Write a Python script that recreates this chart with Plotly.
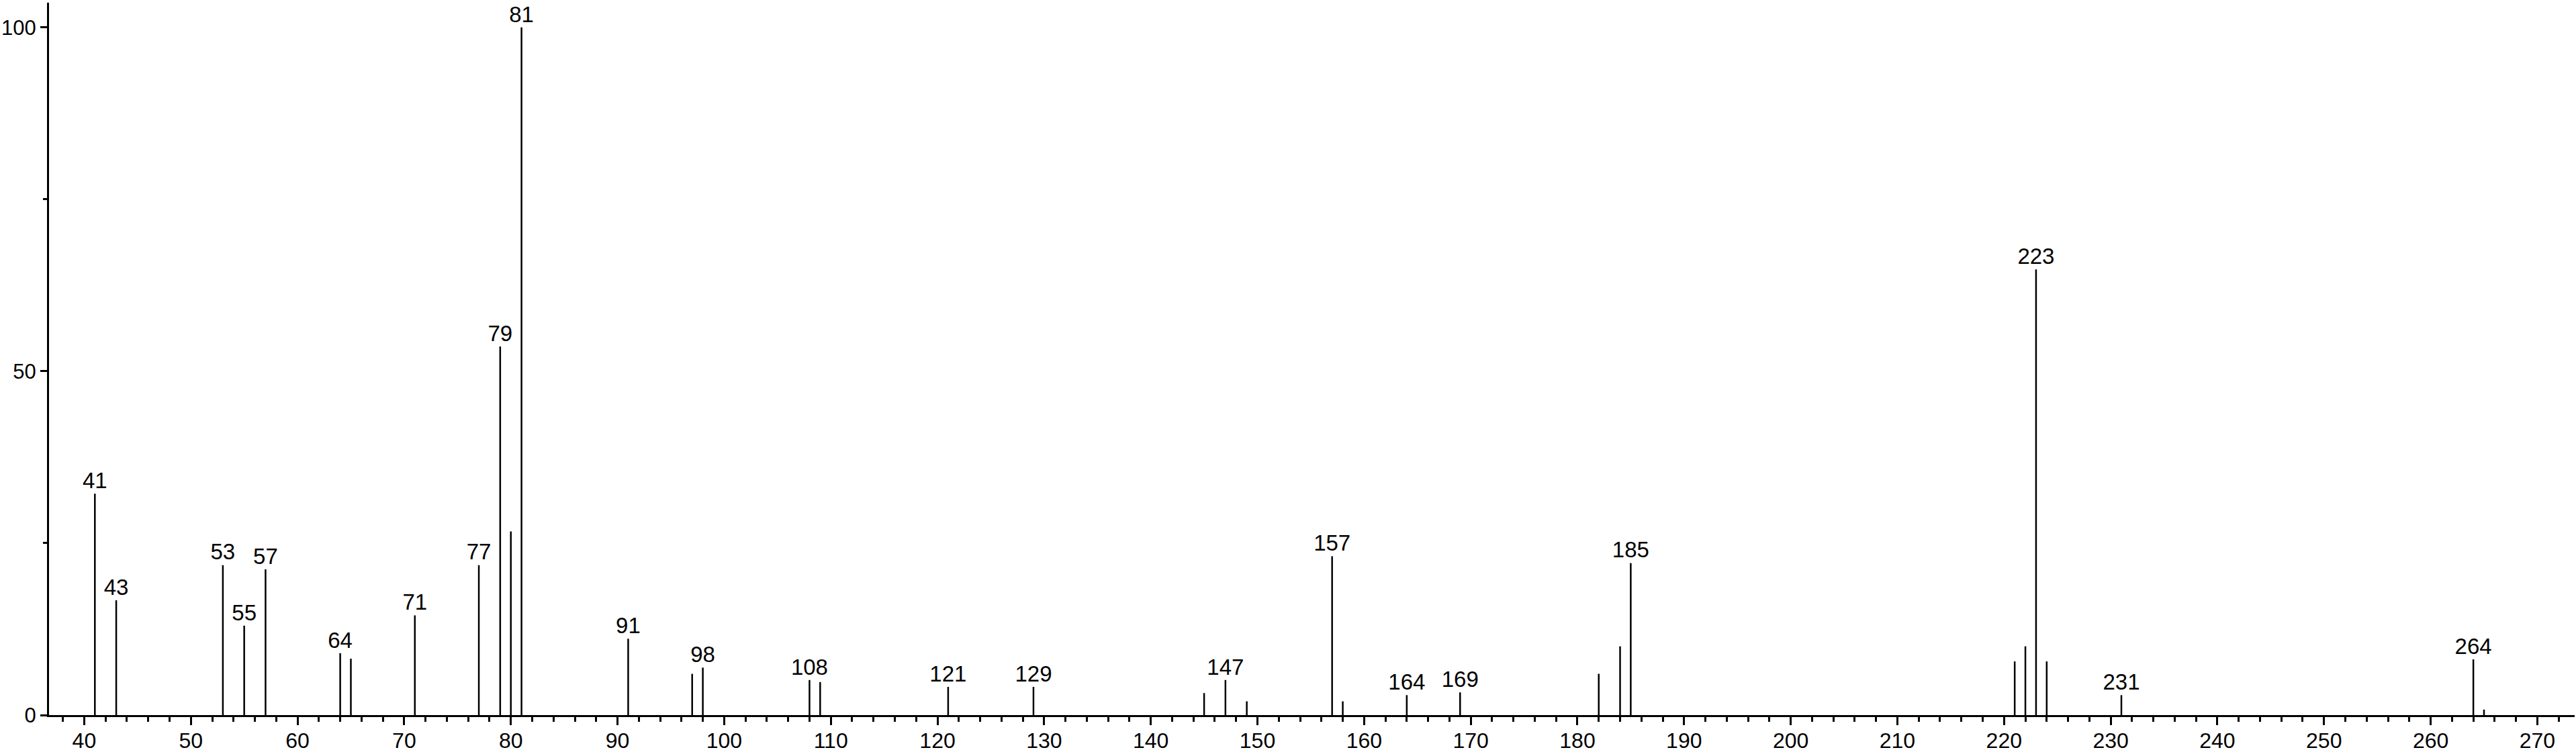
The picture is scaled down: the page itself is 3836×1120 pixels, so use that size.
import plotly.graph_objects as go

# m/z values and relative intensities
mz = [41, 43, 53, 55, 57, 64, 65, 71, 77, 79, 80, 81,
      91, 97, 98, 108, 109, 121, 129, 145, 147, 149,
      157, 158, 164, 169, 182, 184, 185,
      221, 222, 223, 224, 231, 264, 265]
intensity = [32.2, 16.7, 21.8, 13.0, 21.2, 9.0, 8.2, 14.5, 21.8, 53.6, 26.7, 100.0,
             11.1, 6.0, 6.9, 5.1, 4.8, 4.1, 4.1, 3.2, 5.1, 2.0,
             23.1, 2.0, 2.9, 3.3, 6.0, 10.0, 22.1,
             7.8, 10.0, 64.8, 7.8, 2.9, 8.1, 0.8]

# labelled peaks
label_mz = [41, 43, 53, 55, 57, 64, 71, 77, 79, 81, 91, 98, 108, 121, 129,
            147, 157, 164, 169, 185, 223, 231, 264]

x_ticks = list(range(40, 271, 10))
y_ticks = [0, 50, 100]

FONT = "Liberation Sans, Arial, sans-serif"

# stick segments
seg_x, seg_y = [], []
for m, v in zip(mz, intensity):
    seg_x += [m, m, None]
    seg_y += [0, v, None]

lookup = dict(zip(mz, intensity))
lab_y = [lookup[m] for m in label_mz]

fig = go.Figure()
fig.add_trace(go.Scatter(x=seg_x, y=seg_y, mode="lines",
                         line=dict(color="black", width=2.5),
                         hoverinfo="skip", showlegend=False))
fig.add_trace(go.Scatter(x=label_mz, y=lab_y, mode="text",
                         text=[str(m) for m in label_mz],
                         textposition="top center",
                         textfont=dict(family=FONT, size=33, color="black"),
                         cliponaxis=False, hoverinfo="skip", showlegend=False))

fig.update_layout(
    width=3836, height=1120,
    margin=dict(l=73, r=2, t=4, b=55),
    paper_bgcolor="white", plot_bgcolor="white",
    font=dict(family=FONT, size=33, color="black"),
    showlegend=False,
)
fig.update_xaxes(
    range=[36.7, 273.5], automargin=False,
    tickmode="array", tickvals=x_ticks, ticktext=[str(t) for t in x_ticks],
    ticks="outside", ticklen=12, tickwidth=2.5, tickcolor="black",
    ticklabelstandoff=-4,
    minor=dict(dtick=2, tick0=0, ticks="outside", ticklen=7, tickwidth=2.5, tickcolor="black"),
    showline=True, linecolor="black", linewidth=3,
    showgrid=False, zeroline=False,
    tickfont=dict(family=FONT, size=32, color="black"),
)
fig.update_yaxes(
    range=[0, 103.6], automargin=False,
    tickmode="array", tickvals=y_ticks, ticktext=[str(t) for t in y_ticks],
    ticks="outside", ticklen=10, tickwidth=2.5, tickcolor="black",
    minor=dict(dtick=25, tick0=0, ticks="outside", ticklen=6, tickwidth=2.5, tickcolor="black"),
    showline=True, linecolor="black", linewidth=3,
    showgrid=False, zeroline=False,
    tickfont=dict(family=FONT, size=31, color="black"),
)

fig.write_html(
    "out.html",
    config={"displayModeBar": False},
    post_script="document.body.style.margin='0';document.body.style.overflow='hidden';",
)
